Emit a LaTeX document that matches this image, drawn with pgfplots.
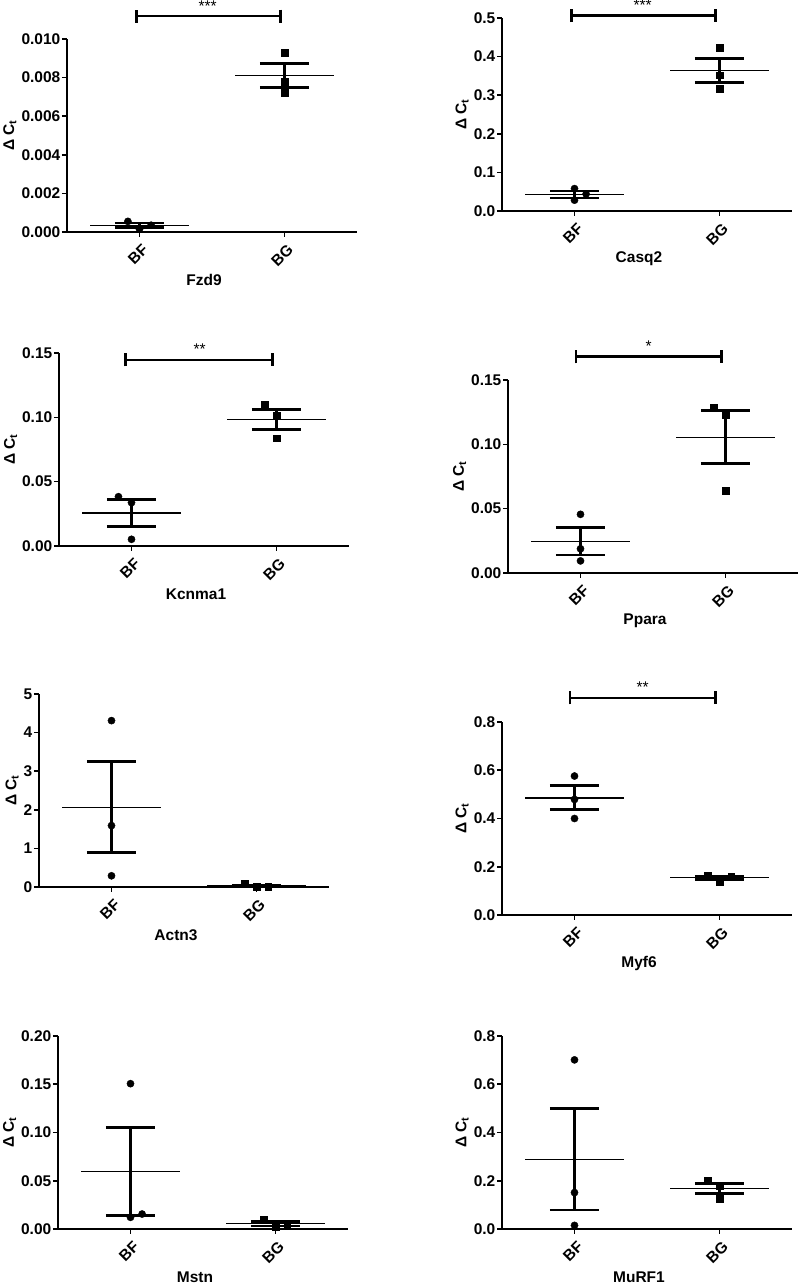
\documentclass[border=0pt]{standalone}
\usepackage{fontspec}
\setmainfont{Liberation Sans}
\usepackage{pgfplots}
\pgfplotsset{compat=1.18}
\usetikzlibrary{arrows.meta}
\newcommand{\lbl}{\bfseries\fontsize{15.5}{18}\selectfont}
\pgfplotsset{
  prism/.style={
    scale only axis, width=290pt, height=193pt, anchor=south west,
    xmin=0.5, xmax=2.5, ymin=0,
    axis x line=bottom, axis y line=left,
    x axis line style={-}, y axis line style={-},
    axis line style={line width=1.6pt, black},
    xtick={1,2}, xticklabels={BF,BG},
    tick style={line width=1.6pt, black},
    major tick length=5pt, tick align=outside,
    xticklabel style={yshift=-5pt, xshift=2pt, rotate=45, anchor=north east, font=\lbl, inner sep=0.5pt},
    yticklabel style={font=\lbl, inner sep=1.5pt},
    scaled y ticks=false,
    /pgf/number format/assume math mode=true,
    /pgf/number format/fixed, /pgf/number format/fixed zerofill,
    ylabel={Δ C\textsubscript{t}},
    ylabel style={font=\lbl},
    xlabel style={font=\lbl, at={(axis description cs:0.5,0)}, anchor=center, yshift=-48pt, xshift=-8pt, inner sep=0.5pt},
    clip=false,
  },
  bfpt/.style={only marks, mark=*, mark size=3.6pt, black},
  bgpt/.style={only marks, mark=square*, mark size=3.4pt, black},
  meanl/.style={black, line width=1.3pt, mark=none},
  errl/.style={black, line width=2.7pt, mark=none},
  sig/.style={black, line width=2.7pt, mark=none, {Bar[width=13pt]}-{Bar[width=13pt]}},
}
% error bar macros: lo, hi, mean
\newcommand{\EBF}[3]{%
  \addplot[meanl] coordinates {(0.66,#3) (1.34,#3)};
  \addplot[errl] coordinates {(1,#1) (1,#2)};
  \addplot[errl] coordinates {(0.83,#1) (1.17,#1)};
  \addplot[errl] coordinates {(0.83,#2) (1.17,#2)};
}
\newcommand{\EBG}[3]{%
  \addplot[meanl] coordinates {(1.66,#3) (2.34,#3)};
  \addplot[errl] coordinates {(2,#1) (2,#2)};
  \addplot[errl] coordinates {(1.83,#1) (2.17,#1)};
  \addplot[errl] coordinates {(1.83,#2) (2.17,#2)};
}
\newcommand{\SIG}[3]{% y, stars, left x
  \addplot[sig] coordinates {(#3,#1) (1.98,#1)};
  \node[anchor=base, yshift=5pt, inner sep=0pt, font=\fontsize{15.5}{18}\selectfont] at (axis cs:1.47,#1) {#2};
}
\begin{document}
\begin{tikzpicture}
\useasboundingbox (0,0) rectangle (800pt,1285pt);

% Fzd9
\begin{axis}[prism, at={(67pt,1053pt)}, ymax=0.010,
  ytick={0,0.002,0.004,0.006,0.008,0.010}, /pgf/number format/precision=3, xlabel={Fzd9}]
  \EBF{0.00024}{0.00047}{0.00035}
  \EBG{0.0075}{0.00872}{0.0081}
  \addplot[bfpt] coordinates {(0.92,0.00055) (1.0,0.00015) (1.08,0.00035)};
  \addplot[bgpt] coordinates {(2,0.0093) (2,0.0078) (2,0.0072)};
  \SIG{0.01119}{***}{0.97}
\end{axis}

% Casq2
\begin{axis}[prism, at={(502pt,1074pt)}, ymax=0.5,
  ytick={0,0.1,0.2,0.3,0.4,0.5}, /pgf/number format/precision=1, xlabel={Casq2}]
  \EBF{0.034}{0.052}{0.043}
  \EBG{0.333}{0.395}{0.364}
  \addplot[bfpt] coordinates {(1,0.058) (1,0.028) (1.08,0.044)};
  \addplot[bgpt] coordinates {(2,0.423) (2,0.352) (2,0.316)};
  \SIG{0.506}{***}{0.97}
\end{axis}

% Kcnma1
\begin{axis}[prism, at={(59pt,739pt)}, ymax=0.15,
  ytick={0,0.05,0.10,0.15}, /pgf/number format/precision=2, xlabel={Kcnma1}]
  \EBF{0.0153}{0.0361}{0.0257}
  \EBG{0.0906}{0.1062}{0.0982}
  \addplot[bfpt] coordinates {(0.91,0.0383) (1,0.0337) (1,0.0052)};
  \addplot[bgpt] coordinates {(1.92,0.1096) (2,0.1013) (2,0.0837)};
  \SIG{0.1446}{**}{0.95}
\end{axis}

% Ppara
\begin{axis}[prism, at={(508pt,712pt)}, ymax=0.15,
  ytick={0,0.05,0.10,0.15}, /pgf/number format/precision=2, xlabel={Ppara}]
  \EBF{0.0141}{0.0351}{0.0246}
  \EBG{0.0853}{0.1262}{0.1052}
  \addplot[bfpt] coordinates {(1,0.0456) (1,0.0188) (1,0.0094)};
  \addplot[bgpt] coordinates {(1.92,0.1285) (2,0.1233) (2,0.0639)};
  \SIG{0.168}{*}{0.96}
\end{axis}

% Actn3
\begin{axis}[prism, at={(39pt,398pt)}, ymax=5,
  ytick={0,1,2,3,4,5}, /pgf/number format/precision=0, xlabel={Actn3}]
  \EBF{0.89}{3.25}{2.06}
  \EBG{0.01}{0.055}{0.03}
  \addplot[bfpt] coordinates {(1,4.31) (1,1.59) (1,0.29)};
  \addplot[bgpt] coordinates {(1.92,0.08) (2,0.005) (2.08,0.01)};
\end{axis}

% Myf6
\begin{axis}[prism, at={(502pt,370pt)}, ymax=0.8,
  ytick={0,0.2,0.4,0.6,0.8}, /pgf/number format/precision=1, xlabel={Myf6}]
  \EBF{0.436}{0.5375}{0.485}
  \EBG{0.147}{0.162}{0.154}
  \addplot[bfpt] coordinates {(1,0.576) (1,0.479) (1,0.400)};
  \addplot[bgpt] coordinates {(1.92,0.164) (2,0.139) (2.08,0.160)};
  \SIG{0.90}{**}{0.96}
\end{axis}

% Mstn
\begin{axis}[prism, at={(58pt,56pt)}, ymax=0.20,
  ytick={0,0.05,0.10,0.15,0.20}, /pgf/number format/precision=2, xlabel={Mstn}]
  \EBF{0.0142}{0.1054}{0.0594}
  \EBG{0.003}{0.008}{0.0055}
  \addplot[bfpt] coordinates {(1,0.1506) (1,0.0121) (1.08,0.0155)};
  \addplot[bgpt] coordinates {(1.92,0.010) (2,0.0024) (2.08,0.004)};
\end{axis}

% MuRF1
\begin{axis}[prism, at={(502pt,56pt)}, ymax=0.8,
  ytick={0,0.2,0.4,0.6,0.8}, /pgf/number format/precision=1, xlabel={MuRF1}]
  \EBF{0.079}{0.500}{0.289}
  \EBG{0.146}{0.19}{0.168}
  \addplot[bfpt] coordinates {(1,0.701) (1,0.151) (1,0.015)};
  \addplot[bgpt] coordinates {(1.92,0.201) (2,0.179) (2,0.124)};
\end{axis}
\end{tikzpicture}
\end{document}
